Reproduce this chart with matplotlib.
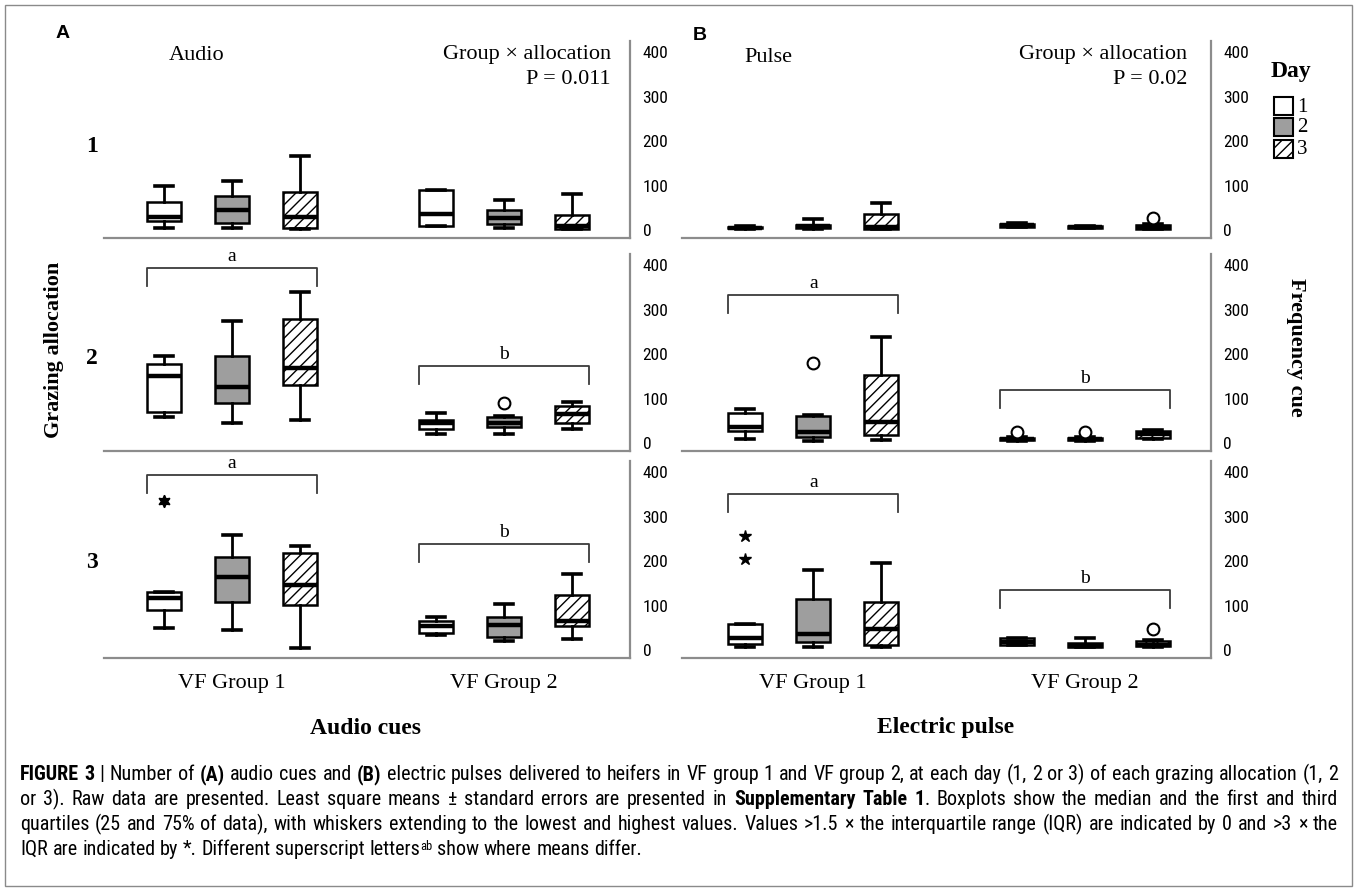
import os
import matplotlib
matplotlib.use('Agg')
import matplotlib.pyplot as plt
import matplotlib.font_manager as fm
from matplotlib.font_manager import FontProperties
from matplotlib.patches import Rectangle

# ---------------- data ----------------
days = ['1', '2', '3']
groups = ['VF Group 1', 'VF Group 2']
allocations = ['1', '2', '3']
yticks = [0, 100, 200, 300, 400]

# order within each row: G1 day1, G1 day2, G1 day3, G2 day1, G2 day2, G2 day3
audio_low = [[5, 5, 3, 9, 5, 2], [59, 45, 51, 21, 20, 32], [49, 44, 5, 34, 21, 25]]
audio_q1 = [[21, 15, 5, 9, 14, 3], [70, 89, 130, 32, 36, 45], [89, 109, 102, 38, 30, 53]]
audio_med = [[29, 46, 29, 36, 27, 8], [150, 126, 168, 45, 45, 66], [117, 165, 146, 55, 57, 66]]
audio_q3 = [[63, 76, 86, 90, 44, 34], [177, 196, 278, 51, 58, 83], [130, 208, 219, 66, 75, 123]]
audio_high = [[99, 111, 166, 90, 67, 80], [195, 274, 340, 68, 61, 92], [130, 259, 234, 75, 103, 171]]
audio_circles = [(1, 4, 91)]          # (row, box index, value)
audio_stars = [(2, 0, 336)]
audio_brackets = [None, (393, 173), (394, 238)]   # bracket level for G1 ('a'), G2 ('b')

pulse_low = [[3, 2, 2, 6, 4, 2], [10, 5, 7, 5, 5, 10], [7, 7, 7, 11, 6, 7]]
pulse_q1 = [[4, 4, 3, 7, 5, 3], [27, 14, 18, 6, 6, 12], [13, 19, 11, 12, 6, 8]]
pulse_med = [[5, 8, 6, 11, 6, 6], [35, 25, 48, 9, 9, 20], [28, 37, 48, 19, 9, 12]]
pulse_q3 = [[7, 11, 37, 14, 8, 12], [67, 60, 153, 12, 12, 27], [59, 115, 107, 26, 15, 20]]
pulse_high = [[8, 25, 61, 16, 9, 14], [77, 62, 239, 14, 14, 30], [59, 179, 195, 28, 26, 22]]
pulse_circles = [(0, 5, 27), (1, 1, 179), (1, 3, 24), (1, 4, 25), (2, 5, 48)]
pulse_stars = [(2, 0, 205), (2, 0, 256)]
pulse_brackets = [None, (332, 119), (350, 135)]

bracket_letters = ['a', 'b']

# ---------------- fonts ----------------
SERIF = 'Liberation Serif'
SANS = 'Liberation Sans'


def find_condensed():
    files = {}
    for f in fm.fontManager.ttflist:
        b = os.path.basename(f.fname).lower()
        if 'italic' in b or 'oblique' in b:
            continue
        if any(k in b for k in ('extra', 'semi', 'ultra', 'light', 'thin', 'black', 'medium')):
            continue
        files[b] = f.fname
    prefs = [('liberationsansnarrow-regular.ttf', 'liberationsansnarrow-bold.ttf'),
             ('robotocondensed-regular.ttf', 'robotocondensed-bold.ttf'),
             ('notosans-condensed.ttf', 'notosans-condensedbold.ttf'),
             ('dejavusanscondensed.ttf', 'dejavusanscondensed-bold.ttf'),
             ('opensans-condensedregular.ttf', 'opensans-condensedbold.ttf')]
    for reg, bold in prefs:
        if reg in files and bold in files:
            return files[reg], files[bold]
    return None, None


COND_REG, COND_BOLD = find_condensed()


def cfont(size, bold=False):
    if COND_REG:
        return FontProperties(fname=COND_BOLD if bold else COND_REG, size=size)
    return FontProperties(family=SANS, weight='bold' if bold else 'normal', size=size)


plt.rcParams['font.family'] = [SERIF, 'DejaVu Serif']
plt.rcParams['hatch.linewidth'] = 1.0
plt.rcParams['hatch.color'] = 'black'

W, H = 1357, 891
fig = plt.figure(figsize=(W / 100, H / 100), dpi=100)
fig.patch.set_facecolor('white')


def FX(px):
    return px / W


def FY(py):
    return 1 - py / H


def ftext(x, y, s, **kw):
    return fig.text(FX(x), FY(y), s, **kw)


# outer frame
fig.add_artist(Rectangle((FX(5), FY(886)), FX(1347), (886 - 5) / H, transform=fig.transFigure,
                         fill=False, edgecolor='#8a8a8a', linewidth=1.0))

positions = [1, 2, 3, 5, 6, 7]
box_w = 0.5
fills = ['white', '#9e9e9e', 'white']
hatches = [None, None, '///']
rows_px = [(41, 238), (254, 451), (461, 658)]
spine_col = '#8c8c8c'


def draw_panel(x0, x1, xlim, low, q1, med, q3, high, circles, stars, brackets, star_marker):
    axes = []
    for r in range(3):
        top, bot = rows_px[r]
        ax = fig.add_axes([FX(x0), FY(bot), FX(x1 - x0), (bot - top) / H])
        ax.set_xlim(*xlim)
        ax.set_ylim(-18, 425)
        stats = []
        for i in range(6):
            stats.append(dict(whislo=low[r][i], q1=q1[r][i], med=med[r][i], q3=q3[r][i],
                              whishi=high[r][i], fliers=[]))
        bp = ax.bxp(stats, positions=positions, widths=box_w, patch_artist=True, showfliers=False,
                    boxprops=dict(edgecolor='black', linewidth=1.8),
                    medianprops=dict(color='black', linewidth=3.2, solid_capstyle='butt'),
                    whiskerprops=dict(color='black', linewidth=2.0),
                    capprops=dict(color='black', linewidth=2.6),
                    capwidths=0.26, manage_ticks=False)
        for i, patch in enumerate(bp['boxes']):
            d = i % 3
            patch.set_facecolor(fills[d])
            if hatches[d]:
                patch.set_hatch(hatches[d])
        for (rr, idx, v) in circles:
            if rr == r:
                ax.plot([positions[idx]], [v], marker='o', ms=8.5, mfc='white', mec='black',
                        mew=1.5, ls='none', zorder=5, clip_on=False)
        for (rr, idx, v) in stars:
            if rr == r:
                ax.plot([positions[idx]], [v], marker=star_marker, ms=9, color='black',
                        ls='none', zorder=5, clip_on=False)
        br = brackets[r]
        if br is not None:
            for g in range(2):
                lvl = br[g]
                xa = positions[3 * g] - box_w / 2
                xb = positions[3 * g + 2] + box_w / 2
                ax.plot([xa, xa, xb, xb], [lvl - 40, lvl, lvl, lvl - 40], color='#3a3a3a',
                        lw=1.3, solid_joinstyle='round', clip_on=False)
                ax.text((xa + xb) / 2, lvl + 26, bracket_letters[g], ha='center', va='center',
                        fontsize=14, family=SERIF, clip_on=False)
        for s in ['top', 'left']:
            ax.spines[s].set_visible(False)
        for s in ['right', 'bottom']:
            ax.spines[s].set_color(spine_col)
            ax.spines[s].set_linewidth(1.6)
        ax.set_xticks([])
        ax.yaxis.tick_right()
        ax.set_yticks(yticks)
        ax.set_yticklabels([str(t) for t in yticks], fontproperties=cfont(12.5))
        ax.tick_params(axis='y', length=0, pad=9)
        ax.patch.set_alpha(0)
        axes.append(ax)
    return axes


axA = draw_panel(104, 630, (0.12, 7.85), audio_low, audio_q1, audio_med, audio_q3, audio_high,
                 audio_circles, audio_stars, audio_brackets, (6, 1, 0))
axB = draw_panel(682, 1211, (0.07, 7.85), pulse_low, pulse_q1, pulse_med, pulse_q3, pulse_high,
                 pulse_circles, pulse_stars, pulse_brackets, '*')

for axes in (axA, axB):
    ax = axes[2]
    for g, name in enumerate(groups):
        ax.text(positions[3 * g + 1], -75, name, ha='center', va='center', fontsize=16,
                family=SERIF, clip_on=False)

ftext(63, 33, 'A', ha='center', va='center', fontsize=14, fontweight='bold', family=SANS)
ftext(700, 35, 'B', ha='center', va='center', fontsize=14, fontweight='bold', family=SANS)
ftext(197, 55, 'Audio', ha='center', va='center', fontsize=16)
ftext(768, 57, 'Pulse', ha='center', va='center', fontsize=16)
for xr, p in ((611, 'P = 0.011'), (1187, 'P = 0.02')):
    ftext(xr, 55, 'Group \u00d7 allocation', ha='right', va='center', fontsize=16)
    ftext(xr, 80, p, ha='right', va='center', fontsize=16)

for lab, y in zip(allocations, (147, 358, 562)):
    ftext(92, y, lab, ha='center', va='center', fontsize=17, fontweight='bold')
ftext(54, 350, 'Grazing allocation', ha='center', va='center', rotation=90, fontsize=16,
      fontweight='bold')
ftext(1296, 347, 'Frequency cue', ha='center', va='center', rotation=270, fontsize=16,
      fontweight='bold')
ftext(366, 728, 'Audio cues', ha='center', va='center', fontsize=17, fontweight='bold')
ftext(946, 728, 'Electric pulse', ha='center', va='center', fontsize=17, fontweight='bold')

ftext(1291, 72, 'Day', ha='center', va='center', fontsize=17, fontweight='bold')
for d, yc in enumerate((106, 127, 149)):
    fig.add_artist(Rectangle((FX(1274), FY(yc + 9)), FX(19), 18 / H, transform=fig.transFigure,
                             facecolor=fills[d], edgecolor='black', linewidth=1.5,
                             hatch=hatches[d]))
    ftext(1297, yc + 1, days[d], ha='left', va='center', fontsize=15)

# ---------------- caption ----------------
caption = [
    [("FIGURE 3", "bold"), (" | Number of ", "normal"), ("(A)", "bold"), (" audio cues and ", "normal"),
     ("(B)", "bold"),
     (" electric pulses delivered to heifers in VF group 1 and VF group 2, at each day (1, 2 or 3) of each grazing allocation (1, 2", "normal")],
    [("or 3). Raw data are presented. Least square means \u00b1 standard errors are presented in ", "normal"),
     ("Supplementary Table 1", "bold"), (". Boxplots show the median and the first and third", "normal")],
    [("quartiles (25 and 75% of data), with whiskers extending to the lowest and highest values. Values >1.5 \u00d7 the interquartile range (IQR) are indicated by 0 and >3 \u00d7 the", "normal")],
    [("IQR are indicated by *. Different superscript letters", "normal"), ("ab", "sup"),
     (" show where means differ.", "normal")],
]


def parse(segs):
    words = [[]]
    for text, style in segs:
        parts = text.split(' ')
        for k, p in enumerate(parts):
            if k > 0:
                words.append([])
            if p:
                words[-1].append((p, style))
    return [w for w in words if w]


renderer = fig.canvas.get_renderer()


def run_font(style, fs):
    if style == 'bold':
        return cfont(fs, True)
    if style == 'sup':
        return cfont(fs * 0.62)
    return cfont(fs)


def width(txt, fp):
    t = fig.text(0, 0, txt, fontproperties=fp)
    w = t.get_window_extent(renderer).width
    t.remove()
    return w


X0, X1 = 20, 1338
line_y = [780, 805, 830, 855]
fs = 16.0
while True:
    sp = width('a a', run_font('normal', fs)) - width('aa', run_font('normal', fs))
    nat = []
    for segs in caption[:3]:
        ws = parse(segs)
        tot = sum(sum(width(t, run_font(s, fs)) for t, s in w) for w in ws) + sp * (len(ws) - 1)
        nat.append(tot)
    if max(nat) <= (X1 - X0) * 0.985 or fs < 8:
        break
    fs -= 0.1

for li, segs in enumerate(caption):
    ws = parse(segs)
    wwidths = [[width(t, run_font(s, fs)) for t, s in w] for w in ws]
    tot = sum(sum(a) for a in wwidths)
    gap = (X1 - X0 - tot) / (len(ws) - 1) if li < 3 else sp
    x = X0
    for w, wl in zip(ws, wwidths):
        for (t, s), wd in zip(w, wl):
            yy = line_y[li] - (5 if s == 'sup' else 0)
            ftext(x, yy, t, ha='left', va='baseline', fontproperties=run_font(s, fs))
            x += wd
        x += gap

fig.savefig('out.png', dpi=100, facecolor='white')
